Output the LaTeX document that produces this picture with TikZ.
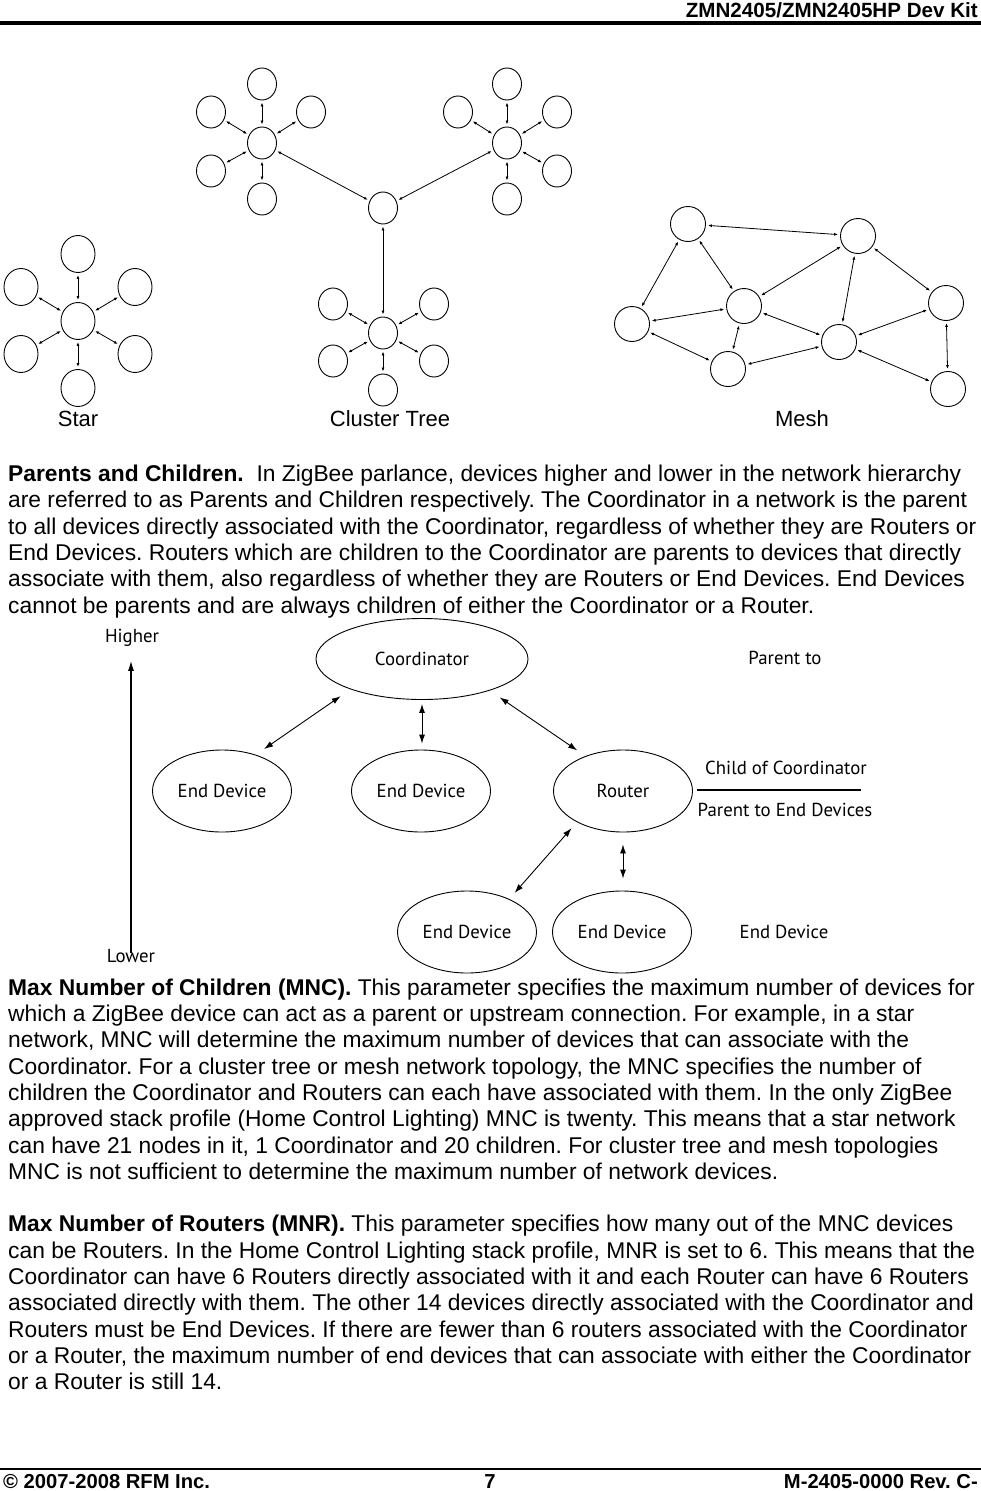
\documentclass[tikz,border=0pt]{standalone}
\usepackage{fontspec}
\setmainfont{Liberation Sans}
\newfontfamily\myriad{PT Sans}
\usetikzlibrary{arrows.meta,shapes.geometric}
\frenchspacing
\tikzset{
  body/.style={anchor=base west, inner sep=0pt, font=\fontsize{22.8}{26}\selectfont},
  nd/.style={draw, ellipse, line width=0.9pt, minimum width=34pt, minimum height=37pt, inner sep=0pt},
  sn/.style={draw, ellipse, line width=0.9pt, minimum width=29pt, minimum height=32pt, inner sep=0pt},
  mn/.style={draw, circle, line width=0.9pt, minimum size=35pt, inner sep=0pt},
  lk/.style={{Latex[length=4pt,width=3pt]}-{Latex[length=4pt,width=3pt]}, line width=0.8pt, shorten >=2pt, shorten <=2pt},
  toplabel/.style={font=\fontsize{22}{26}\selectfont, anchor=base},
  he/.style={draw, ellipse, line width=0.9pt, minimum width=139pt, minimum height=82pt, inner sep=0pt, font=\myriad\fontsize{18.8}{22}\selectfont},
  hl/.style={font=\myriad\fontsize{18.8}{22}\selectfont, inner sep=0pt},
  ha/.style={{Latex[length=9pt,width=6pt]}-{Latex[length=9pt,width=6pt]}, line width=0.9pt},
  hf/.style={inner sep=0pt, font=\bfseries\fontsize{20.6}{24}\selectfont},
  ft/.style={inner sep=0pt, anchor=base, font=\bfseries\fontsize{20.2}{24}\selectfont},
}
\begin{document}
\begin{tikzpicture}[x=1pt,y=-1pt]
\useasboundingbox[fill=white] (0,0) rectangle (981,1491);

% header / footer
\node[hf, anchor=east] (hdr) at (978,10) {ZMN2405/ZMN2405HP Dev Kit};
\draw[line width=4pt] (0,23) -- (981,23);
\draw[line width=1.2pt] (0,1469) -- (981,1469);
\node[ft, anchor=base west] (f1) at (3,1488) {© 2007-2008 RFM Inc.};
\node[ft] (f2) at (490,1488) {7};
\node[ft, anchor=base east] (f3) at (978,1488) {M-2405-0000 Rev. C-};

% ---- Star ----
\node[nd] (s0) at (78,321) {};
\node[nd] (s1) at (78,254) {};
\node[nd] (s2) at (21,287) {};
\node[nd] (s3) at (135,287) {};
\node[nd] (s4) at (21,354) {};
\node[nd] (s5) at (135,354) {};
\node[nd] (s6) at (78,388) {};
\foreach \i in {1,...,6} \draw[lk] (s0) -- (s\i);
\node[toplabel] (lstar) at (78,426) {Star};

% ---- Cluster tree ----
\node[sn] (hub) at (383,208) {};
\node[sn] (l0) at (262,143) {};
\node[sn] (l1) at (262,84) {};
\node[sn] (l2) at (211,112) {};
\node[sn] (l3) at (311,112) {};
\node[sn] (l4) at (211,171) {};
\node[sn] (l5) at (262,199) {};
\node[sn] (r0) at (507,143) {};
\node[sn] (r1) at (507,84) {};
\node[sn] (r2) at (458,112) {};
\node[sn] (r3) at (557,112) {};
\node[sn] (r4) at (557,171) {};
\node[sn] (r5) at (507,199) {};
\node[sn] (b0) at (383,333) {};
\node[sn] (b1) at (333,304) {};
\node[sn] (b2) at (434,304) {};
\node[sn] (b3) at (333,361) {};
\node[sn] (b4) at (434,361) {};
\node[sn] (b5) at (383,390) {};
\foreach \i in {1,...,5} {\draw[lk] (l0) -- (l\i); \draw[lk] (r0) -- (r\i); \draw[lk] (b0) -- (b\i);}
\draw[lk] (hub) -- (l0);
\draw[lk] (hub) -- (r0);
\draw[lk] (hub) -- (b0);
\node[toplabel] (lct) at (390,426) {Cluster Tree};

% ---- Mesh ----
\node[mn] (ma) at (688,224) {};
\node[mn] (mb) at (858,236) {};
\node[mn] (mc) at (744,306) {};
\node[mn] (md) at (946,303) {};
\node[mn] (me) at (632,324) {};
\node[mn] (mf) at (839,342) {};
\node[mn] (mg) at (728,369) {};
\node[mn] (mh) at (948,389) {};
\foreach \a/\b in {ma/mb,ma/me,ma/mc,mb/mc,mb/mf,mb/md,me/mc,me/mg,mc/mg,mc/mf,mg/mf,mf/md,mf/mh,md/mh}
  \draw[lk] (\a) -- (\b);
\node[toplabel] (lmesh) at (802,426) {Mesh};

% ---- paragraph 1 ----
\node[body] (p1a) at (8,481) {\textbf{Parents and Children.}\ \ In ZigBee parlance, devices higher and lower in the network hierarchy};
\node[body] (p1b) at (8,507) {are referred to as Parents and Children respectively. The Coordinator in a network is the parent};
\node[body] (p1c) at (8,534) {to all devices directly associated with the Coordinator, regardless of whether they are Routers or};
\node[body] (p1d) at (8,560) {End Devices. Routers which are children to the Coordinator are parents to devices that directly};
\node[body] (p1e) at (8,586) {associate with them, also regardless of whether they are Routers or End Devices. End Devices};
\node[body] (p1f) at (8,613) {cannot be parents and are always children of either the Coordinator or a Router.};

% ---- hierarchy ----
\node[he, minimum width=212pt, minimum height=81pt] (coord) at (422,659) {Coordinator};
\node[he] (ed1) at (222,791) {End Device};
\node[he] (ed2) at (421,791) {End Device};
\node[he] (router) at (623,791) {Router};
\node[he] (ed3) at (467,932) {End Device};
\node[he] (ed4) at (622,932) {End Device};
\node[hl] (higher) at (132,638) {Higher};
\node[hl] (lower) at (131,956) {Lower};
\node[hl] (pto) at (785,658) {Parent to};
\node[hl] (child) at (786,768) {Child of Coordinator};
\node[hl] (pted) at (785,810) {Parent to End Devices};
\node[hl] (edl) at (784,932) {End Device};
\draw[line width=1.8pt] (697,790) -- (861,790);
\draw[-{Latex[length=10pt,width=6pt]}, line width=1.2pt] ([yshift=-4pt]lower.north) -- ([yshift=-14pt]higher.south -| lower.north);
\draw[ha, shorten >=12pt, shorten <=10pt] (ed1.47) -- (coord.203);
\draw[ha, shorten >=6pt, shorten <=4pt] (coord.south) -- (coord.south |- ed2.north);
\draw[ha, shorten >=10pt, shorten <=12pt] (coord.335) -- (router.137);
\draw[ha, shorten >=8pt, shorten <=8pt] (router.214) -- (ed3.38);
\draw[ha, shorten >=12pt, shorten <=12pt] (router.south) -- (router.south |- ed4.north);

% ---- paragraph 2 ----
\node[body] (p2a) at (8,995) {\textbf{Max Number of Children (MNC).} This parameter specifies the maximum number of devices for};
\node[body] (p2b) at (8,1021) {which a ZigBee device can act as a parent or upstream connection. For example, in a star};
\node[body] (p2c) at (8,1047) {network, MNC will determine the maximum number of devices that can associate with the};
\node[body] (p2d) at (8,1074) {Coordinator. For a cluster tree or mesh network topology, the MNC specifies the number of};
\node[body] (p2e) at (8,1100) {children the Coordinator and Routers can each have associated with them. In the only ZigBee};
\node[body] (p2f) at (8,1126) {approved stack profile (Home Control Lighting) MNC is twenty. This means that a star network};
\node[body] (p2g) at (8,1153) {can have 21 nodes in it, 1 Coordinator and 20 children. For cluster tree and mesh topologies};
\node[body] (p2h) at (8,1179) {MNC is not sufficient to determine the maximum number of network devices.};

% ---- paragraph 3 ----
\node[body] (p3a) at (8,1231) {\textbf{Max Number of Routers (MNR).} This parameter specifies how many out of the MNC devices};
\node[body] (p3b) at (8,1258) {can be Routers. In the Home Control Lighting stack profile, MNR is set to 6. This means that the};
\node[body] (p3c) at (8,1284) {Coordinator can have 6 Routers directly associated with it and each Router can have 6 Routers};
\node[body] (p3d) at (8,1310) {associated directly with them. The other 14 devices directly associated with the Coordinator and};
\node[body] (p3e) at (8,1337) {Routers must be End Devices. If there are fewer than 6 routers associated with the Coordinator};
\node[body] (p3f) at (8,1363) {or a Router, the maximum number of end devices that can associate with either the Coordinator};
\node[body] (p3g) at (8,1389) {or a Router is still 14.};
\end{tikzpicture}
\end{document}
